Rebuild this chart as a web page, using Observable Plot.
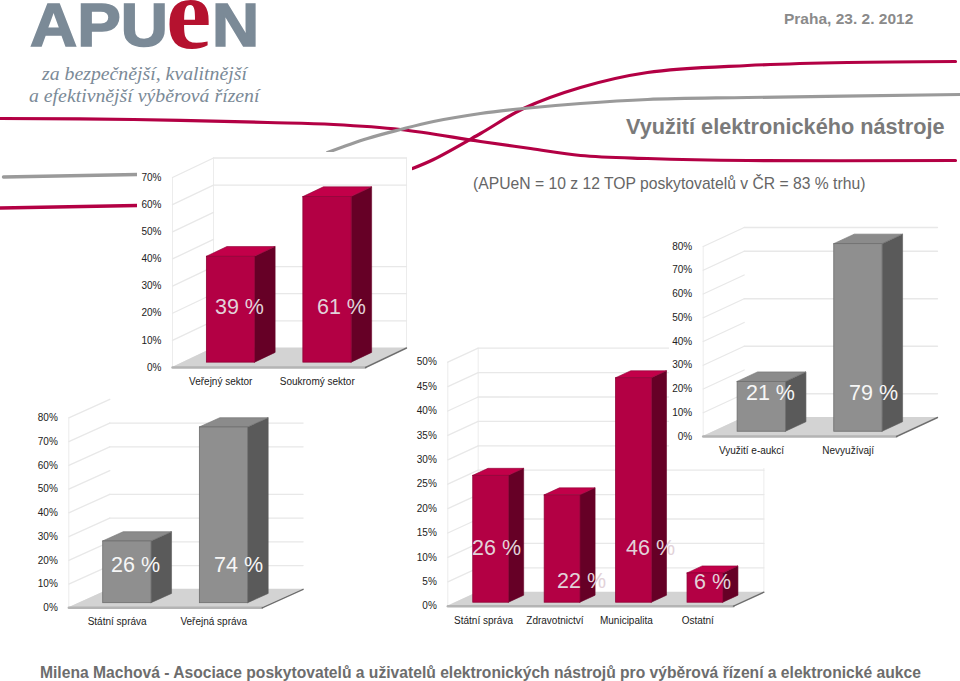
<!DOCTYPE html>
<html><head><meta charset="utf-8">
<script src="https://cdn.jsdelivr.net/npm/d3@7"></script>
<script src="https://cdn.jsdelivr.net/npm/@observablehq/plot@0.6"></script>
<style>
html,body{margin:0;padding:0;background:#fff}
#page{position:relative;width:960px;height:681px;overflow:hidden;font-family:"Liberation Sans",Arial,sans-serif}
#page svg{position:absolute;max-width:none}
.t{position:absolute;white-space:nowrap;line-height:1}
</style></head><body><div id="page"></div>
<script>
// ---- values
const sectorCats = ["Veřejný sektor", "Soukromý sektor"];
const sectorVals = [39, 61];
const sectorTicks = [0,10,20,30,40,50,60,70];
const sectorBackLines = [10,20,30,60,70];

const adminCats = ["Státní správa", "Veřejná správa"];
const adminVals = [26, 74];
const adminTicks = [0,10,20,30,40,50,60,70,80];
const adminBackLines = [10,20,30,40,60,70];

const bodyCats = ["Státní správa", "Zdravotnictví", "Municipalita", "Ostatní"];
const bodyVals = [26, 22, 46, 6];
const bodyTicks = [0,5,10,15,20,25,30,35,40,45,50];
const bodyBackLines = [5,10,15,20,25,30,35,40,45,50];

const auctionCats = ["Využití e-aukcí", "Nevyužívají"];
const auctionVals = [21, 79];
const auctionTicks = [0,10,20,30,40,50,60,70,80];
const auctionBackLines = [10,30,50,70,80];

// header ribbons
const ribbonRedAX = [0,133,267,333,400,480,530,580,647,747,955];
const ribbonRedAY = [118,119,122,124,129,141,148,155,158,160,160];
const ribbonRedBX = [412,433,480,523,580,647,747,847,955];
const ribbonRedBY = [168,159,133,108,87,72,65,62,61];
const ribbonGreyAX = [327,367,400,433,480,523,580,647,747,960];
const ribbonGreyAY = [152,138,129,121,113,108,103,99,97,94];
const ribbonGreyBX = [3,137];
const ribbonGreyBY = [176.5,174];
const ribbonRedCX = [0,137];
const ribbonRedCY = [207.5,205];

const page = document.getElementById("page");
const RED = {front:"#b30044", top:"#c20049", side:"#660026", edge:"#8f0036", label:"#e2d2d9"};
const GREY = {front:"#8f8f8f", top:"#8b8b8b", side:"#5a5a5a", edge:"#6d6d6d", label:"#f6f6f6"};
const GRID = "#e8e8e8";

function ribbon(xs, ys, stroke, w){
  return Plot.line(xs.map((x,i)=>({x, y:ys[i]})), {x:"x", y:"y", stroke, strokeWidth:w, curve:"catmull-rom"});
}
const back = Plot.plot({
  width:960, height:681, margin:0,
  x:{domain:[0,960], axis:null}, y:{domain:[681,0], axis:null},
  marks:[
    ribbon(ribbonRedAX, ribbonRedAY, "#b30044", 3.2),
    ribbon(ribbonRedBX, ribbonRedBY, "#b30044", 3.2),
    ribbon(ribbonGreyAX, ribbonGreyAY, "#9a9a9a", 3.2),
    ribbon(ribbonGreyBX, ribbonGreyBY, "#9a9a9a", 3.4),
    ribbon(ribbonRedCX, ribbonRedCY, "#b30044", 3.4)
  ]
});
back.style.left="0px"; back.style.top="0px"; page.appendChild(back);

function chart3d({cats, vals, ticks, backLines, fullWalls, pal, labelX, labelV, left, top, width, height, x0, y0, floorW, unit, depthX, depthY}){
  const n = cats.length, yMax = ticks[ticks.length-1];
  const zx = depthX/(floorW/n), zy = depthY/unit;    // depth expressed in data units
  const X = (x,z)=>x+z*zx, V = (v,z)=>v+z*zy;
  const marginLeft = x0-left, marginBottom = top+height-y0;
  const plotW = floorW+depthX, plotH = yMax*unit+depthY;
  const marginRight = width-marginLeft-plotW, marginTop = height-marginBottom-plotH;

  const slantRows = ticks.flatMap(t=>[{t, x:X(0,0), v:V(t,0)}, {t, x:X(0,1), v:V(t,1)}]);
  const backRows = backLines.flatMap(t=>[{t, x:X(0,1), v:V(t,1)}, {t, x:X(n,1), v:V(t,1)}]);
  const wallAt = fullWalls ? [[0,0],[0,1],[n,1]] : [[0,0]];
  const wallRows = wallAt.flatMap(([a,z],k)=>[{k, x:X(a,z), v:V(0,z)}, {k, x:X(a,z), v:V(yMax,z)}]);
  const floor = [{x1:X(0,0), x2:X(n,0), v:V(0,0)}, {x1:X(0,1), x2:X(n,1), v:V(0,1)}];
  const bars = vals.map((val,i)=>({i, a:i+.25, b:i+.75, val}));
  const sideRows = bars.flatMap(d=>[.25,.75].map(z=>({i:d.i, x:X(d.b,z), y1:V(0,z), y2:V(d.val,z)})));
  const topRows = bars.flatMap(d=>[.25,.75].map(z=>({i:d.i, x1:X(d.a,z), x2:X(d.b,z), y:V(d.val,z)})));
  const edge = [{x:X(n,0),v:V(0,0)},{x:X(n,1),v:V(0,1)}];
  const lip = [{x:X(0,0),v:V(0,0)},{x:X(n,0),v:V(0,0)}];
  const labels = vals.map((val,i)=>({text:val+" %", x:labelX[i], v:labelV[i]}));

  const svg = Plot.plot({
    width, height, marginLeft, marginRight, marginTop, marginBottom,
    x:{domain:[0,n+zx], axis:null}, y:{domain:[0,yMax+zy], axis:null},
    style:{background:"#fff", fontFamily:'"Liberation Sans",Arial,sans-serif', overflow:"visible"},
    marks:[
      Plot.line(wallRows, {x:"x", y:"v", z:"k", stroke:"#ececec", strokeWidth:1}),
      Plot.line(slantRows, {x:"x", y:"v", z:"t", stroke:GRID, strokeWidth:1.3}),
      Plot.line(backRows, {x:"x", y:"v", z:"t", stroke:GRID, strokeWidth:1.3}),
      Plot.area(floor, {x1:"x1", x2:"x2", y1:"v", y2:"v", fill:"#d3d3d3"}),
      Plot.line(lip, {x:"x", y:"v", stroke:"#b4b4b4", strokeWidth:2.4}),
      Plot.line(edge, {x:"x", y:"v", stroke:"#6e6e6e", strokeWidth:1.4}),
      Plot.area(sideRows, {x1:"x", x2:"x", y1:"y1", y2:"y2", z:"i", fill:pal.side, stroke:pal.side, strokeWidth:.6}),
      Plot.area(topRows, {x1:"x1", x2:"x2", y1:"y", y2:"y", z:"i", fill:pal.top, stroke:pal.edge, strokeWidth:.6}),
      Plot.rect(bars, {x1:d=>X(d.a,.25), x2:d=>X(d.b,.25), y1:()=>V(0,.25), y2:d=>V(d.val,.25), fill:pal.front, stroke:pal.edge, strokeWidth:.8}),
      Plot.text(labels, {x:"x", y:"v", text:"text", fontSize:21.5, fill:pal.label}),
      Plot.axisY({ticks, tickFormat:d=>d+"%", tickSize:0, tickPadding:11, fontSize:10, label:null, fill:"#222"}),
      Plot.axisX({ticks:cats.map((c,i)=>i+.5), tickFormat:d=>cats[Math.floor(d)], tickSize:0, tickPadding:10.5, fontSize:10, label:null, fill:"#222"})
    ]
  });
  svg.style.left=left+"px"; svg.style.top=top+"px";
  page.appendChild(svg);
}

chart3d({cats:sectorCats, vals:sectorVals, ticks:sectorTicks, backLines:sectorBackLines, fullWalls:true, pal:RED,
  labelX:[.694,1.751], labelV:[22.1,22.1],
  left:137, top:152, width:275, height:240, x0:172, y0:367, floorW:193, unit:2.714, depthX:41, depthY:19.5});
chart3d({cats:bodyCats, vals:bodyVals, ticks:bodyTicks, backLines:bodyBackLines, fullWalls:true, pal:RED,
  labelX:[.682,1.873,2.839,3.707], labelV:[12,5.06,12,4.9],
  left:412, top:340, width:360, height:295, x0:447.3, y0:605.7, floorW:285.7, unit:4.88, depthX:30.4, depthY:14});
chart3d({cats:adminCats, vals:adminVals, ticks:adminTicks, backLines:adminBackLines, fullWalls:false, pal:GREY,
  labelX:[.69,1.756], labelV:[17.8,17.8],
  left:40, top:392, width:270, height:243, x0:68.3, y0:607.3, floorW:193.3, unit:2.375, depthX:41, depthY:18.5});
chart3d({cats:auctionCats, vals:auctionVals, ticks:auctionTicks, backLines:auctionBackLines, fullWalls:false, pal:GREY,
  labelX:[.696,1.762], labelV:[18.1,18.1],
  left:669, top:218, width:275, height:250, x0:702.7, y0:436, floorW:193.3, unit:2.375, depthX:41, depthY:19});

// slide furniture
function txt(s, css){ const d=document.createElement("div"); d.className="t"; d.textContent=s; d.style.cssText=css; page.appendChild(d); return d; }
const slate="#7b8a97";
const heavy=`font:bold 61px/37px "Liberation Sans";color:${slate};-webkit-text-stroke:1.6px ${slate};transform:scaleX(1.07);transform-origin:left top`;
txt("APU", `left:30px;top:7px;${heavy}`);
txt("e", `left:166px;top:4px;font:bold 102px/20px "Liberation Serif";color:#b5122f`);
txt("N", `left:212px;top:7px;${heavy}`);
txt("za bezpečnější, kvalitnější", `left:42px;top:62px;font:italic 19.8px "Liberation Serif";color:${slate}`);
txt("a efektivnější výběrová řízení", `left:29px;top:84px;font:italic 19.8px "Liberation Serif";color:${slate}`);
txt("Praha, 23. 2. 2012", `left:784px;top:10px;font:bold 15.5px "Liberation Sans";color:#8a8a8a`);
txt("Využití elektronického nástroje", `left:626px;top:114px;font:bold 21.7px "Liberation Sans";color:#7a7a7a`);
txt("(APUeN = 10 z 12 TOP poskytovatelů v ČR = 83 % trhu)", `left:473px;top:175px;font:15.7px "Liberation Sans";color:#666`);
txt("Milena Machová - Asociace poskytovatelů a uživatelů elektronických nástrojů pro výběrová řízení a elektronické aukce", `left:40px;top:664px;font:bold 15.65px "Liberation Sans";color:#6d6d6d`);
</script></body></html>
